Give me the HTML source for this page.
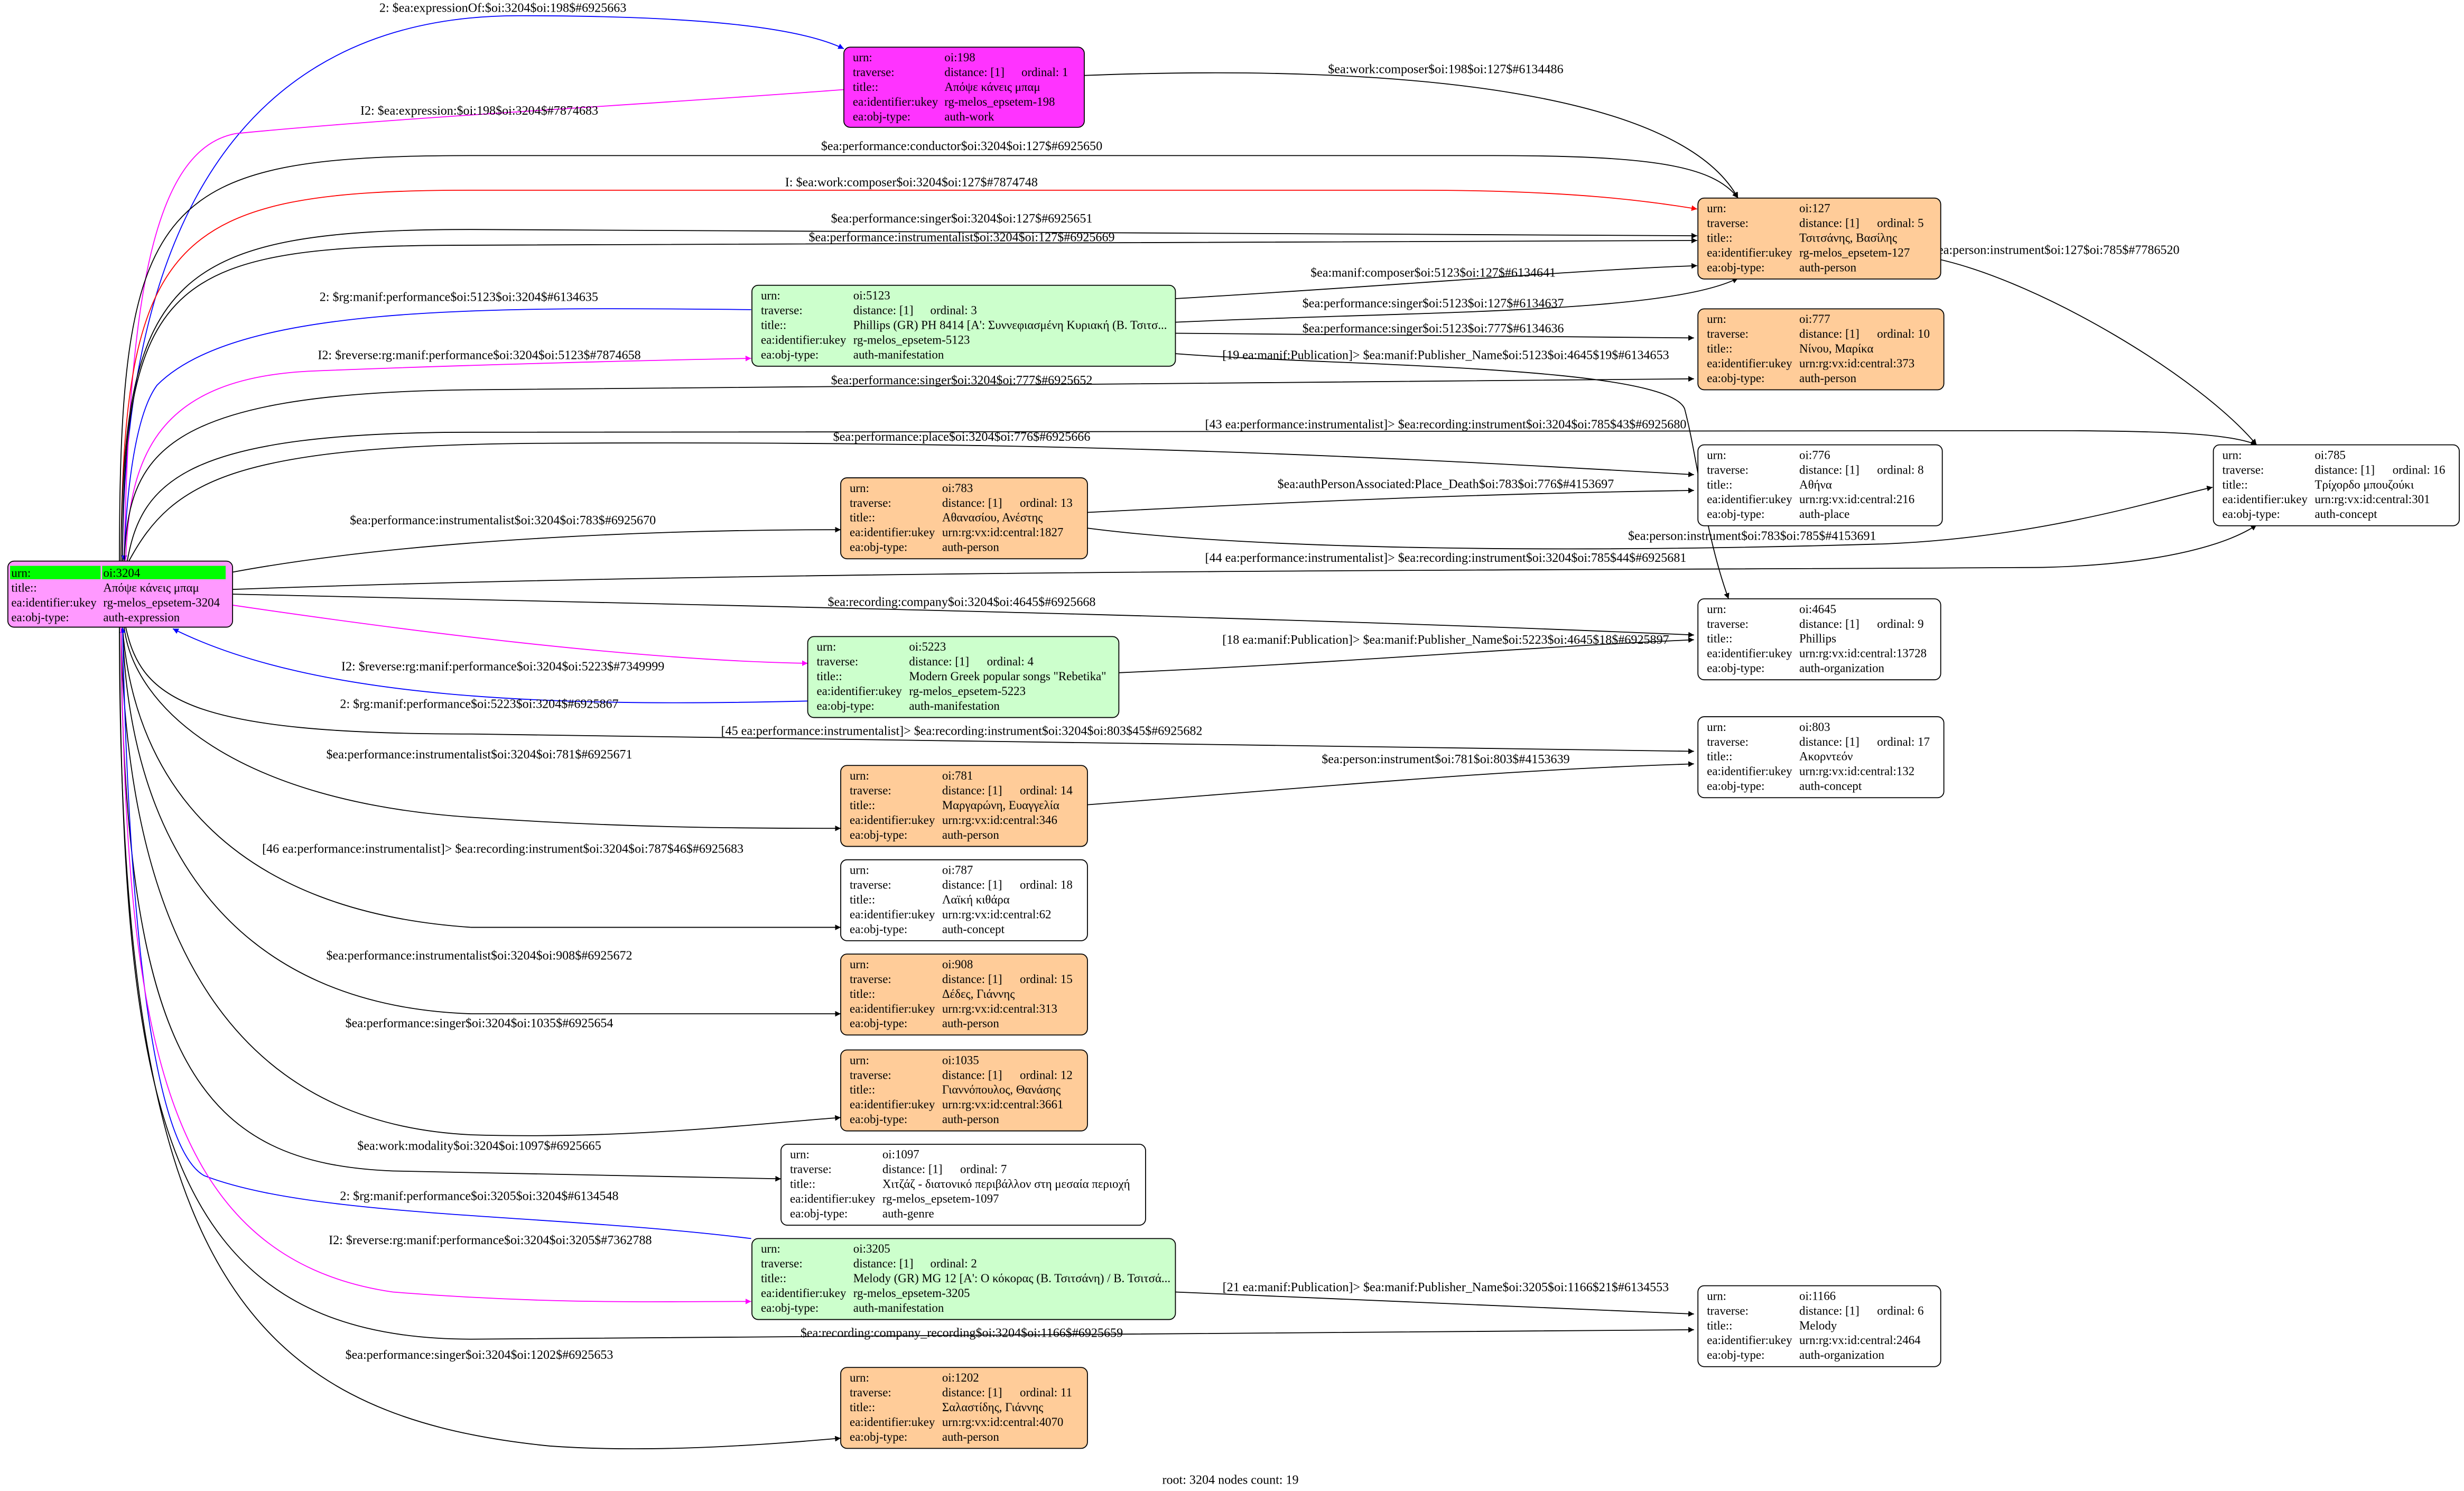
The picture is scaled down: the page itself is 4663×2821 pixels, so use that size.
<!DOCTYPE html>
<html><head><meta charset="utf-8"><style>
html,body{margin:0;padding:0;background:#fff;}
svg{display:block;}
text{font-family:"Liberation Serif","DejaVu Serif",serif;}
.n{font-size:7.7px;fill:#000;}
.e{font-size:8.1px;fill:#000;}
path.k{fill:none;stroke:#000;stroke-width:0.6;}
path.b{fill:none;stroke:#00f;stroke-width:0.6;}
path.m{fill:none;stroke:#f0f;stroke-width:0.6;}
path.r{fill:none;stroke:#f00;stroke-width:0.6;}
rect.box{stroke:#000;stroke-width:0.6;}
</style></head><body>
<svg width="4663" height="2821" viewBox="0 0 1568 948.6" xmlns="http://www.w3.org/2000/svg">
<defs>
<marker id="ak" viewBox="0 0 10 10" refX="10" refY="5" markerWidth="3.6" markerHeight="3.6" markerUnits="userSpaceOnUse" orient="auto"><path d="M0,0 L10,5 L0,10z" fill="#000"/></marker>
<marker id="ab" viewBox="0 0 10 10" refX="10" refY="5" markerWidth="3.6" markerHeight="3.6" markerUnits="userSpaceOnUse" orient="auto"><path d="M0,0 L10,5 L0,10z" fill="#00f"/></marker>
<marker id="am" viewBox="0 0 10 10" refX="10" refY="5" markerWidth="3.6" markerHeight="3.6" markerUnits="userSpaceOnUse" orient="auto"><path d="M0,0 L10,5 L0,10z" fill="#f0f"/></marker>
<marker id="ar" viewBox="0 0 10 10" refX="10" refY="5" markerWidth="3.6" markerHeight="3.6" markerUnits="userSpaceOnUse" orient="auto"><path d="M0,0 L10,5 L0,10z" fill="#f00"/></marker>
</defs>
<rect width="1568" height="948.6" fill="#fff"/>

<!-- edges -->
<path class="b" marker-end="url(#ab)" d="M78,357 C78,200 120,10 330,10 C450,10 510,18 537,31"/>
<path class="m" marker-end="url(#am)" d="M537,57 C420,66 250,75 150,85 C95,95 82,200 79,357"/>
<path class="k" marker-end="url(#ak)" d="M690,48 C900,40 1070,60 1106,126"/>
<path class="k" marker-end="url(#ak)" d="M76,357 C76,125 100,99 300,99 L950,99 C1050,99 1090,105 1106,126"/>
<path class="r" marker-end="url(#ar)" d="M77,357 C78,150 110,121 300,121 L900,121 C1000,121 1050,128 1080,133"/>
<path class="k" marker-end="url(#ak)" d="M77,357 C78,175 110,146 300,146 L1080,150"/>
<path class="k" marker-end="url(#ak)" d="M78,357 C78,175 110,156 300,156 L1080,153"/>
<path class="b" marker-end="url(#ab)" d="M478,197 C300,195 150,195 100,245 C85,265 80,320 79,357"/>
<path class="m" marker-end="url(#am)" d="M80,357 C82,290 100,240 200,236 C300,232 420,229 478,228"/>
<path class="k" marker-end="url(#ak)" d="M748,190 C900,181 1000,172 1080,169"/>
<path class="k" marker-end="url(#ak)" d="M748,205 C900,198 1060,200 1106,177"/>
<path class="k" marker-end="url(#ak)" d="M748,212 L1078,215"/>
<path class="k" marker-end="url(#ak)" d="M748,225 C850,233 1060,232 1072,260 C1080,290 1085,340 1100,381"/>
<path class="k" marker-end="url(#ak)" d="M79,357 C82,290 100,250 300,248 L1078,241"/>
<path class="k" marker-end="url(#ak)" d="M81,357 C90,305 120,275 300,275 L1300,274 C1380,274 1420,276 1436,283"/>
<path class="k" marker-end="url(#ak)" d="M82,357 C110,305 150,283 350,282 C700,280 900,292 1078,302"/>
<path class="k" marker-end="url(#ak)" d="M148,364 C250,345 400,337 535,337"/>
<path class="k" marker-end="url(#ak)" d="M692,326 C850,318 950,314 1078,312"/>
<path class="k" marker-end="url(#ak)" d="M692,336 C800,350 1000,352 1200,346 C1300,342 1380,316 1408,310"/>
<path class="k" marker-end="url(#ak)" d="M1234,165 C1300,180 1400,240 1436,283"/>
<path class="k" marker-end="url(#ak)" d="M148,375 C500,362 1000,363 1300,361 C1380,359 1420,345 1436,334"/>
<path class="k" marker-end="url(#ak)" d="M148,378 C500,386 800,392 1078,404"/>
<path class="k" marker-end="url(#ak)" d="M712,428 C850,422 950,413 1078,407"/>
<path class="m" marker-end="url(#am)" d="M148,385 C250,400 400,420 514,422"/>
<path class="b" marker-end="url(#ab)" d="M514,446 C350,450 200,445 110,400"/>
<path class="k" marker-end="url(#ak)" d="M80,399 C90,445 120,467 300,467 L1078,478"/>
<path class="k" marker-end="url(#ak)" d="M79,399 C85,450 150,510 300,520 C400,527 480,527 535,527"/>
<path class="k" marker-end="url(#ak)" d="M692,512 C850,500 950,490 1078,486"/>
<path class="k" marker-end="url(#ak)" d="M78,399 C85,500 150,580 300,590 L535,590"/>
<path class="k" marker-end="url(#ak)" d="M78,399 C82,540 150,640 300,645 L535,645"/>
<path class="k" marker-end="url(#ak)" d="M77,399 C80,600 150,715 300,722 C400,725 480,715 535,711"/>
<path class="k" marker-end="url(#ak)" d="M77,399 C78,680 130,740 250,745 L497,750"/>
<path class="b" marker-end="url(#ab)" d="M478,788 C350,772 200,775 130,748 C88,725 80,500 78,399"/>
<path class="m" marker-end="url(#am)" d="M77,399 C80,650 100,800 250,822 C350,830 420,828 478,828"/>
<path class="k" marker-end="url(#ak)" d="M748,822 L1078,836"/>
<path class="k" marker-end="url(#ak)" d="M76,399 C78,700 100,852 300,852 L1078,846"/>
<path class="k" marker-end="url(#ak)" d="M76,399 C76,800 150,900 350,920 C420,925 500,918 535,915"/>

<!-- edge labels -->
<g class="e" text-anchor="middle">
<text x="320" y="7.5">2: $ea:expressionOf:$oi:3204$oi:198$#6925663</text>
<text x="305" y="73">I2: $ea:expression:$oi:198$oi:3204$#7874683</text>
<text x="920" y="46.5">$ea:work:composer$oi:198$oi:127$#6134486</text>
<text x="612" y="95.5">$ea:performance:conductor$oi:3204$oi:127$#6925650</text>
<text x="580" y="118.5">I: $ea:work:composer$oi:3204$oi:127$#7874748</text>
<text x="612" y="141.5">$ea:performance:singer$oi:3204$oi:127$#6925651</text>
<text x="612" y="153.5">$ea:performance:instrumentalist$oi:3204$oi:127$#6925669</text>
<text x="292" y="191.5">2: $rg:manif:performance$oi:5123$oi:3204$#6134635</text>
<text x="305" y="228.5">I2: $reverse:rg:manif:performance$oi:3204$oi:5123$#7874658</text>
<text x="912" y="176">$ea:manif:composer$oi:5123$oi:127$#6134641</text>
<text x="912" y="195.5">$ea:performance:singer$oi:5123$oi:127$#6134637</text>
<text x="912" y="211.5">$ea:performance:singer$oi:5123$oi:777$#6134636</text>
<text x="920" y="228.5">[19 ea:manif:Publication]&gt; $ea:manif:Publisher_Name$oi:5123$oi:4645$19$#6134653</text>
<text x="612" y="244.5">$ea:performance:singer$oi:3204$oi:777$#6925652</text>
<text x="920" y="272.5">[43 ea:performance:instrumentalist]&gt; $ea:recording:instrument$oi:3204$oi:785$43$#6925680</text>
<text x="612" y="280.5">$ea:performance:place$oi:3204$oi:776$#6925666</text>
<text x="320" y="333.5">$ea:performance:instrumentalist$oi:3204$oi:783$#6925670</text>
<text x="920" y="310.5">$ea:authPersonAssociated:Place_Death$oi:783$oi:776$#4153697</text>
<text x="1115" y="343.5">$ea:person:instrument$oi:783$oi:785$#4153691</text>
<text x="1308" y="161.5">$ea:person:instrument$oi:127$oi:785$#7786520</text>
<text x="920" y="357.5">[44 ea:performance:instrumentalist]&gt; $ea:recording:instrument$oi:3204$oi:785$44$#6925681</text>
<text x="612" y="385.5">$ea:recording:company$oi:3204$oi:4645$#6925668</text>
<text x="920" y="409.5">[18 ea:manif:Publication]&gt; $ea:manif:Publisher_Name$oi:5223$oi:4645$18$#6925897</text>
<text x="320" y="426.5">I2: $reverse:rg:manif:performance$oi:3204$oi:5223$#7349999</text>
<text x="305" y="450.5">2: $rg:manif:performance$oi:5223$oi:3204$#6925867</text>
<text x="612" y="467.5">[45 ea:performance:instrumentalist]&gt; $ea:recording:instrument$oi:3204$oi:803$45$#6925682</text>
<text x="305" y="482.5">$ea:performance:instrumentalist$oi:3204$oi:781$#6925671</text>
<text x="920" y="485.5">$ea:person:instrument$oi:781$oi:803$#4153639</text>
<text x="320" y="542.5">[46 ea:performance:instrumentalist]&gt; $ea:recording:instrument$oi:3204$oi:787$46$#6925683</text>
<text x="305" y="610.5">$ea:performance:instrumentalist$oi:3204$oi:908$#6925672</text>
<text x="305" y="653.5">$ea:performance:singer$oi:3204$oi:1035$#6925654</text>
<text x="305" y="731.5">$ea:work:modality$oi:3204$oi:1097$#6925665</text>
<text x="305" y="763.5">2: $rg:manif:performance$oi:3205$oi:3204$#6134548</text>
<text x="312" y="791.5">I2: $reverse:rg:manif:performance$oi:3204$oi:3205$#7362788</text>
<text x="920" y="821.5">[21 ea:manif:Publication]&gt; $ea:manif:Publisher_Name$oi:3205$oi:1166$21$#6134553</text>
<text x="612" y="850.5">$ea:recording:company_recording$oi:3204$oi:1166$#6925659</text>
<text x="305" y="864.5">$ea:performance:singer$oi:3204$oi:1202$#6925653</text>
<text x="783" y="944">root: 3204 nodes count: 19</text>
</g>

<!-- root node -->
<rect class="box" x="5" y="357" width="143" height="42" rx="4" fill="#ff99ff"/>
<rect x="6.4" y="360" width="57.6" height="8.5" fill="#00ff00"/>
<rect x="65" y="360" width="78.6" height="8.5" fill="#00ff00"/>
<g class="n">
<text x="7.2" y="367">urn:</text><text x="65.7" y="367">oi:3204</text>
<text x="7.2" y="376.4">title::</text><text x="65.7" y="376.4">Απόψε κάνεις μπαμ</text>
<text x="7.2" y="385.8">ea:identifier:ukey</text><text x="65.7" y="385.8">rg-melos_epsetem-3204</text>
<text x="7.2" y="395.2">ea:obj-type:</text><text x="65.7" y="395.2">auth-expression</text>
</g>

<!-- 198 -->
<rect class="box" x="537" y="30" width="153" height="51" rx="4" fill="#ff33ff"/>
<g class="n"><text x="542.7" y="39">urn:</text><text x="601" y="39">oi:198</text>
<text x="542.7" y="48.4">traverse:</text><text x="601" y="48.4">distance: [1]</text><text x="650" y="48.4">ordinal: 1</text>
<text x="542.7" y="57.8">title::</text><text x="601" y="57.8">Απόψε κάνεις μπαμ</text>
<text x="542.7" y="67.2">ea:identifier:ukey</text><text x="601" y="67.2">rg-melos_epsetem-198</text>
<text x="542.7" y="76.6">ea:obj-type:</text><text x="601" y="76.6">auth-work</text></g>

<!-- 127 -->
<rect class="box" x="1080.5" y="126" width="154.5" height="51.5" rx="4" fill="#ffcc99"/>
<g class="n"><text x="1086.2" y="135">urn:</text><text x="1145" y="135">oi:127</text>
<text x="1086.2" y="144.4">traverse:</text><text x="1145" y="144.4">distance: [1]</text><text x="1194.5" y="144.4">ordinal: 5</text>
<text x="1086.2" y="153.8">title::</text><text x="1145" y="153.8">Τσιτσάνης, Βασίλης</text>
<text x="1086.2" y="163.2">ea:identifier:ukey</text><text x="1145" y="163.2">rg-melos_epsetem-127</text>
<text x="1086.2" y="172.6">ea:obj-type:</text><text x="1145" y="172.6">auth-person</text></g>

<!-- 5123 -->
<rect class="box" x="478.5" y="181.5" width="269.5" height="51.5" rx="4" fill="#ccffcc"/>
<g class="n"><text x="484.2" y="190.5">urn:</text><text x="543" y="190.5">oi:5123</text>
<text x="484.2" y="199.9">traverse:</text><text x="543" y="199.9">distance: [1]</text><text x="592" y="199.9">ordinal: 3</text>
<text x="484.2" y="209.3">title::</text><text x="543" y="209.3">Phillips (GR) PH 8414 [A': Συννεφιασμένη Κυριακή (Β. Τσιτσ...</text>
<text x="484.2" y="218.7">ea:identifier:ukey</text><text x="543" y="218.7">rg-melos_epsetem-5123</text>
<text x="484.2" y="228.1">ea:obj-type:</text><text x="543" y="228.1">auth-manifestation</text></g>

<!-- 777 -->
<rect class="box" x="1080.5" y="196.5" width="156.5" height="51.5" rx="4" fill="#ffcc99"/>
<g class="n"><text x="1086.2" y="205.5">urn:</text><text x="1145" y="205.5">oi:777</text>
<text x="1086.2" y="214.9">traverse:</text><text x="1145" y="214.9">distance: [1]</text><text x="1194.5" y="214.9">ordinal: 10</text>
<text x="1086.2" y="224.3">title::</text><text x="1145" y="224.3">Νίνου, Μαρίκα</text>
<text x="1086.2" y="233.7">ea:identifier:ukey</text><text x="1145" y="233.7">urn:rg:vx:id:central:373</text>
<text x="1086.2" y="243.1">ea:obj-type:</text><text x="1145" y="243.1">auth-person</text></g>

<!-- 785 -->
<rect class="box" x="1408.5" y="283" width="156.5" height="51.5" rx="4" fill="#ffffff"/>
<g class="n"><text x="1414.2" y="292">urn:</text><text x="1473" y="292">oi:785</text>
<text x="1414.2" y="301.4">traverse:</text><text x="1473" y="301.4">distance: [1]</text><text x="1522.5" y="301.4">ordinal: 16</text>
<text x="1414.2" y="310.8">title::</text><text x="1473" y="310.8">Τρίχορδο μπουζούκι</text>
<text x="1414.2" y="320.2">ea:identifier:ukey</text><text x="1473" y="320.2">urn:rg:vx:id:central:301</text>
<text x="1414.2" y="329.6">ea:obj-type:</text><text x="1473" y="329.6">auth-concept</text></g>

<!-- 776 -->
<rect class="box" x="1080.5" y="283" width="155.5" height="51.5" rx="4" fill="#ffffff"/>
<g class="n"><text x="1086.2" y="292">urn:</text><text x="1145" y="292">oi:776</text>
<text x="1086.2" y="301.4">traverse:</text><text x="1145" y="301.4">distance: [1]</text><text x="1194.5" y="301.4">ordinal: 8</text>
<text x="1086.2" y="310.8">title::</text><text x="1145" y="310.8">Αθήνα</text>
<text x="1086.2" y="320.2">ea:identifier:ukey</text><text x="1145" y="320.2">urn:rg:vx:id:central:216</text>
<text x="1086.2" y="329.6">ea:obj-type:</text><text x="1145" y="329.6">auth-place</text></g>

<!-- 783 -->
<rect class="box" x="535" y="304" width="157" height="51.5" rx="4" fill="#ffcc99"/>
<g class="n"><text x="540.7" y="313">urn:</text><text x="599.5" y="313">oi:783</text>
<text x="540.7" y="322.4">traverse:</text><text x="599.5" y="322.4">distance: [1]</text><text x="649" y="322.4">ordinal: 13</text>
<text x="540.7" y="331.8">title::</text><text x="599.5" y="331.8">Αθανασίου, Ανέστης</text>
<text x="540.7" y="341.2">ea:identifier:ukey</text><text x="599.5" y="341.2">urn:rg:vx:id:central:1827</text>
<text x="540.7" y="350.6">ea:obj-type:</text><text x="599.5" y="350.6">auth-person</text></g>

<!-- 4645 -->
<rect class="box" x="1080.5" y="381" width="154.5" height="51.5" rx="4" fill="#ffffff"/>
<g class="n"><text x="1086.2" y="390">urn:</text><text x="1145" y="390">oi:4645</text>
<text x="1086.2" y="399.4">traverse:</text><text x="1145" y="399.4">distance: [1]</text><text x="1194.5" y="399.4">ordinal: 9</text>
<text x="1086.2" y="408.8">title::</text><text x="1145" y="408.8">Phillips</text>
<text x="1086.2" y="418.2">ea:identifier:ukey</text><text x="1145" y="418.2">urn:rg:vx:id:central:13728</text>
<text x="1086.2" y="427.6">ea:obj-type:</text><text x="1145" y="427.6">auth-organization</text></g>

<!-- 5223 -->
<rect class="box" x="514" y="405" width="198" height="51.5" rx="4" fill="#ccffcc"/>
<g class="n"><text x="519.7" y="414">urn:</text><text x="578.5" y="414">oi:5223</text>
<text x="519.7" y="423.4">traverse:</text><text x="578.5" y="423.4">distance: [1]</text><text x="628" y="423.4">ordinal: 4</text>
<text x="519.7" y="432.8">title::</text><text x="578.5" y="432.8">Modern Greek popular songs "Rebetika"</text>
<text x="519.7" y="442.2">ea:identifier:ukey</text><text x="578.5" y="442.2">rg-melos_epsetem-5223</text>
<text x="519.7" y="451.6">ea:obj-type:</text><text x="578.5" y="451.6">auth-manifestation</text></g>

<!-- 803 -->
<rect class="box" x="1080.5" y="456" width="156.5" height="51.5" rx="4" fill="#ffffff"/>
<g class="n"><text x="1086.2" y="465">urn:</text><text x="1145" y="465">oi:803</text>
<text x="1086.2" y="474.4">traverse:</text><text x="1145" y="474.4">distance: [1]</text><text x="1194.5" y="474.4">ordinal: 17</text>
<text x="1086.2" y="483.8">title::</text><text x="1145" y="483.8">Ακορντεόν</text>
<text x="1086.2" y="493.2">ea:identifier:ukey</text><text x="1145" y="493.2">urn:rg:vx:id:central:132</text>
<text x="1086.2" y="502.6">ea:obj-type:</text><text x="1145" y="502.6">auth-concept</text></g>

<!-- 781 -->
<rect class="box" x="535" y="487" width="157" height="51.5" rx="4" fill="#ffcc99"/>
<g class="n"><text x="540.7" y="496">urn:</text><text x="599.5" y="496">oi:781</text>
<text x="540.7" y="505.4">traverse:</text><text x="599.5" y="505.4">distance: [1]</text><text x="649" y="505.4">ordinal: 14</text>
<text x="540.7" y="514.8">title::</text><text x="599.5" y="514.8">Μαργαρώνη, Ευαγγελία</text>
<text x="540.7" y="524.2">ea:identifier:ukey</text><text x="599.5" y="524.2">urn:rg:vx:id:central:346</text>
<text x="540.7" y="533.6">ea:obj-type:</text><text x="599.5" y="533.6">auth-person</text></g>

<!-- 787 -->
<rect class="box" x="535" y="547" width="157" height="51.5" rx="4" fill="#ffffff"/>
<g class="n"><text x="540.7" y="556">urn:</text><text x="599.5" y="556">oi:787</text>
<text x="540.7" y="565.4">traverse:</text><text x="599.5" y="565.4">distance: [1]</text><text x="649" y="565.4">ordinal: 18</text>
<text x="540.7" y="574.8">title::</text><text x="599.5" y="574.8">Λαϊκή κιθάρα</text>
<text x="540.7" y="584.2">ea:identifier:ukey</text><text x="599.5" y="584.2">urn:rg:vx:id:central:62</text>
<text x="540.7" y="593.6">ea:obj-type:</text><text x="599.5" y="593.6">auth-concept</text></g>

<!-- 908 -->
<rect class="box" x="535" y="607" width="157" height="51.5" rx="4" fill="#ffcc99"/>
<g class="n"><text x="540.7" y="616">urn:</text><text x="599.5" y="616">oi:908</text>
<text x="540.7" y="625.4">traverse:</text><text x="599.5" y="625.4">distance: [1]</text><text x="649" y="625.4">ordinal: 15</text>
<text x="540.7" y="634.8">title::</text><text x="599.5" y="634.8">Δέδες, Γιάννης</text>
<text x="540.7" y="644.2">ea:identifier:ukey</text><text x="599.5" y="644.2">urn:rg:vx:id:central:313</text>
<text x="540.7" y="653.6">ea:obj-type:</text><text x="599.5" y="653.6">auth-person</text></g>

<!-- 1035 -->
<rect class="box" x="535" y="668" width="157" height="51.5" rx="4" fill="#ffcc99"/>
<g class="n"><text x="540.7" y="677">urn:</text><text x="599.5" y="677">oi:1035</text>
<text x="540.7" y="686.4">traverse:</text><text x="599.5" y="686.4">distance: [1]</text><text x="649" y="686.4">ordinal: 12</text>
<text x="540.7" y="695.8">title::</text><text x="599.5" y="695.8">Γιαννόπουλος, Θανάσης</text>
<text x="540.7" y="705.2">ea:identifier:ukey</text><text x="599.5" y="705.2">urn:rg:vx:id:central:3661</text>
<text x="540.7" y="714.6">ea:obj-type:</text><text x="599.5" y="714.6">auth-person</text></g>

<!-- 1097 -->
<rect class="box" x="497" y="728" width="232" height="51.5" rx="4" fill="#ffffff"/>
<g class="n"><text x="502.7" y="737">urn:</text><text x="561.5" y="737">oi:1097</text>
<text x="502.7" y="746.4">traverse:</text><text x="561.5" y="746.4">distance: [1]</text><text x="611" y="746.4">ordinal: 7</text>
<text x="502.7" y="755.8">title::</text><text x="561.5" y="755.8">Χιτζάζ - διατονικό περιβάλλον στη μεσαία περιοχή</text>
<text x="502.7" y="765.2">ea:identifier:ukey</text><text x="561.5" y="765.2">rg-melos_epsetem-1097</text>
<text x="502.7" y="774.6">ea:obj-type:</text><text x="561.5" y="774.6">auth-genre</text></g>

<!-- 3205 -->
<rect class="box" x="478.5" y="788" width="269.5" height="51.5" rx="4" fill="#ccffcc"/>
<g class="n"><text x="484.2" y="797">urn:</text><text x="543" y="797">oi:3205</text>
<text x="484.2" y="806.4">traverse:</text><text x="543" y="806.4">distance: [1]</text><text x="592" y="806.4">ordinal: 2</text>
<text x="484.2" y="815.8">title::</text><text x="543" y="815.8">Melody (GR) MG 12 [A': Ο κόκορας (Β. Τσιτσάνη) / Β. Τσιτσά...</text>
<text x="484.2" y="825.2">ea:identifier:ukey</text><text x="543" y="825.2">rg-melos_epsetem-3205</text>
<text x="484.2" y="834.6">ea:obj-type:</text><text x="543" y="834.6">auth-manifestation</text></g>

<!-- 1166 -->
<rect class="box" x="1080.5" y="818" width="154.5" height="51.5" rx="4" fill="#ffffff"/>
<g class="n"><text x="1086.2" y="827">urn:</text><text x="1145" y="827">oi:1166</text>
<text x="1086.2" y="836.4">traverse:</text><text x="1145" y="836.4">distance: [1]</text><text x="1194.5" y="836.4">ordinal: 6</text>
<text x="1086.2" y="845.8">title::</text><text x="1145" y="845.8">Melody</text>
<text x="1086.2" y="855.2">ea:identifier:ukey</text><text x="1145" y="855.2">urn:rg:vx:id:central:2464</text>
<text x="1086.2" y="864.6">ea:obj-type:</text><text x="1145" y="864.6">auth-organization</text></g>

<!-- 1202 -->
<rect class="box" x="535" y="870" width="157" height="51.5" rx="4" fill="#ffcc99"/>
<g class="n"><text x="540.7" y="879">urn:</text><text x="599.5" y="879">oi:1202</text>
<text x="540.7" y="888.4">traverse:</text><text x="599.5" y="888.4">distance: [1]</text><text x="649" y="888.4">ordinal: 11</text>
<text x="540.7" y="897.8">title::</text><text x="599.5" y="897.8">Σαλαστίδης, Γιάννης</text>
<text x="540.7" y="907.2">ea:identifier:ukey</text><text x="599.5" y="907.2">urn:rg:vx:id:central:4070</text>
<text x="540.7" y="916.6">ea:obj-type:</text><text x="599.5" y="916.6">auth-person</text></g>
</svg>
</body></html>
